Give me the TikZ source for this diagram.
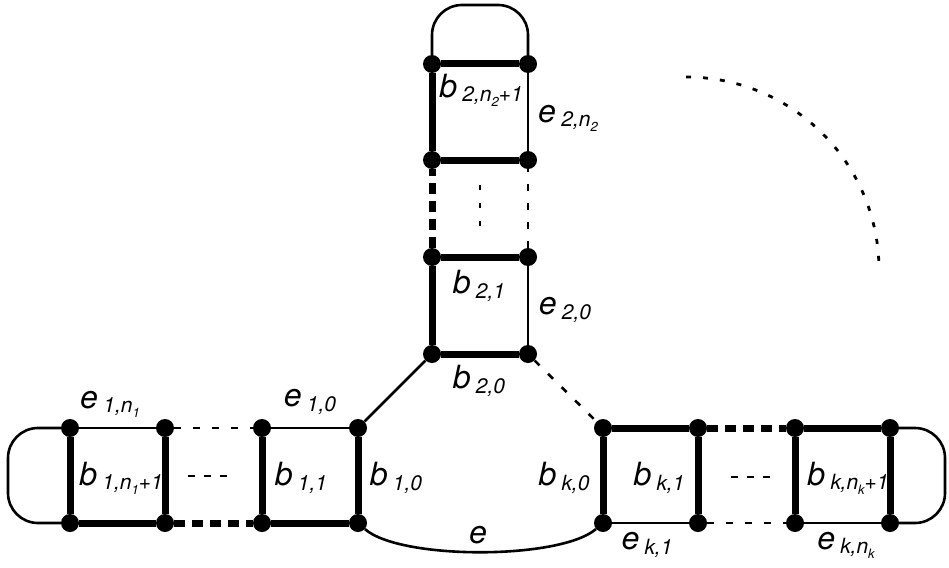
\documentclass[tikz,border=0pt]{standalone}
\usepackage{fontspec}
\setmainfont{TeX Gyre Heros}
\usetikzlibrary{positioning}
\tikzset{
  vtx/.style={circle, fill=black, inner sep=0pt, minimum size=18pt},
  thinedge/.style={line width=2.6pt},
  thickedge/.style={line width=7pt},
  thindots/.style={line width=2.6pt, dash pattern=on 7pt off 12pt},
  thickdash/.style={line width=7pt, dash pattern=on 11pt off 7pt},
  arcdots/.style={line width=2.8pt, dash pattern=on 5pt off 12pt},
  gapdots/.style={line width=2.8pt, dash pattern=on 7pt off 9pt},
  loopedge/.style={thinedge, rounded corners=30pt},
  edgelabel/.style={font=\itshape\fontsize{32}{38}\selectfont, inner sep=0pt}
}
\newcommand{\lsub}[1]{\,\raisebox{-0.15em}{\fontsize{21}{21}\selectfont #1}}
\newcommand{\llsub}[1]{\raisebox{-0.2em}{\fontsize{13}{13}\selectfont #1}}

\begin{document}
\begin{tikzpicture}[x=1pt, y=-1pt]
\useasboundingbox (0,0) rectangle (949,567);
% left branch
\node[vtx] (l0t) at (358,428) {};
\node[vtx] (l0b) at (358,523) {};
\node[vtx] (l1t) at (262,428) {};
\node[vtx] (l1b) at (262,523) {};
\node[vtx] (l2t) at (165,428) {};
\node[vtx] (l2b) at (165,523) {};
\node[vtx] (l3t) at (70,428) {};
\node[vtx] (l3b) at (70,523) {};
% right branch
\node[vtx] (r0t) at (603,428) {};
\node[vtx] (r0b) at (603,523) {};
\node[vtx] (r1t) at (698,428) {};
\node[vtx] (r1b) at (698,523) {};
\node[vtx] (r2t) at (795,428) {};
\node[vtx] (r2b) at (795,523) {};
\node[vtx] (r3t) at (890,428) {};
\node[vtx] (r3b) at (890,523) {};
% top branch
\node[vtx] (t0l) at (432,354) {};
\node[vtx] (t0r) at (528,354) {};
\node[vtx] (t1l) at (432,257) {};
\node[vtx] (t1r) at (528,257) {};
\node[vtx] (t2l) at (432,160) {};
\node[vtx] (t2r) at (528,160) {};
\node[vtx] (t3l) at (432,64) {};
\node[vtx] (t3r) at (528,64) {};
% gap marks
\coordinate (gl1) at (188,476);
\coordinate (gl2) at (234,476);
\coordinate (gr1) at (731,477);
\coordinate (gr2) at (777,477);
\coordinate (gt1) at (480,185);
\coordinate (gt2) at (480,228);
\coordinate (arcstart) at (686,77);

% left branch edges
\draw[thinedge] (l3t) -- (l2t);
\draw[thindots] (l2t) -- (l1t);
\draw[thinedge] (l1t) -- (l0t);
\draw[thickedge] (l3b) -- (l2b);
\draw[thickdash] (l2b) -- (l1b);
\draw[thickedge] (l1b) -- (l0b);
\draw[thickedge] (l0t) -- (l0b);
\draw[thickedge] (l1t) -- (l1b);
\draw[thickedge] (l2t) -- (l2b);
\draw[thickedge] (l3t) -- (l3b);
\draw[loopedge] (l3t) -- ++(-62,0) |- (l3b);
% right branch edges
\draw[thickedge] (r0t) -- (r1t);
\draw[thickdash] (r1t) -- (r2t);
\draw[thickedge] (r2t) -- (r3t);
\draw[thinedge] (r0b) -- (r1b);
\draw[thindots] (r1b) -- (r2b);
\draw[thinedge] (r2b) -- (r3b);
\draw[thickedge] (r0t) -- (r0b);
\draw[thickedge] (r1t) -- (r1b);
\draw[thickedge] (r2t) -- (r2b);
\draw[thickedge] (r3t) -- (r3b);
\draw[loopedge] (r3t) -- ++(55,0) |- (r3b);
% top branch edges
\draw[thickedge] (t0l) -- (t0r);
\draw[thickedge] (t1l) -- (t1r);
\draw[thickedge] (t2l) -- (t2r);
\draw[thickedge] (t3l) -- (t3r);
\draw[thickedge] (t0l) -- (t1l);
\draw[thickdash] (t1l) -- (t2l);
\draw[thickedge] (t2l) -- (t3l);
\draw[thinedge] (t0r) -- (t1r);
\draw[thindots] (t1r) -- (t2r);
\draw[thinedge] (t2r) -- (t3r);
\draw[loopedge] (t3l) -- ++(0,-59) -| (t3r);
% joining edges
\draw[thinedge] (t0l) -- (l0t);
\draw[thindots] (t0r) -- (r0t);
\draw[thinedge] (l0b) .. controls (400,560) and (560,560) .. (r0b);
% gaps
\draw[gapdots] (gl1) -- (gl2);
\draw[gapdots] (gr1) -- (gr2);
\draw[line width=2.8pt, dash pattern=on 5pt off 13pt] (gt1) -- (gt2);
\draw[arcdots] (arcstart) arc[start angle=-90, end angle=0, radius=193];

% labels
\node[edgelabel] (le1n) at (110,404) {e\lsub{1,n\llsub{1}}};
\node[edgelabel] (le10) at (310,402) {e\lsub{1,0}};
\node[edgelabel] (lb1n) at (121,478) {b\lsub{1,n\llsub{1}+1}};
\node[edgelabel] (lb11) at (301,478) {b\lsub{1,1}};
\node[edgelabel] (lb10) at (396,478) {b\lsub{1,0}};
\node[edgelabel] (lbk0) at (564,478) {b\lsub{k,0}};
\node[edgelabel] (lbk1) at (659,478) {b\lsub{k,1}};
\node[edgelabel] (lbkn) at (848,478) {b\lsub{k,n\llsub{k}+1}};
\node[edgelabel] (lek1) at (647,545) {e\lsub{k,1}};
\node[edgelabel] (lekn) at (846,545) {e\lsub{k,n\llsub{k}}};
\node[edgelabel] (le) at (478,535) {e};
\node[edgelabel] (lb2n) at (481,90) {b\lsub{2,n\llsub{2}+1}};
\node[edgelabel] (le2n) at (568,118) {e\lsub{2,n\llsub{2}}};
\node[edgelabel] (lb21) at (479,286) {b\lsub{2,1}};
\node[edgelabel] (le20) at (565,310) {e\lsub{2,0}};
\node[edgelabel] (lb20) at (479,381) {b\lsub{2,0}};
\end{tikzpicture}
\end{document}
